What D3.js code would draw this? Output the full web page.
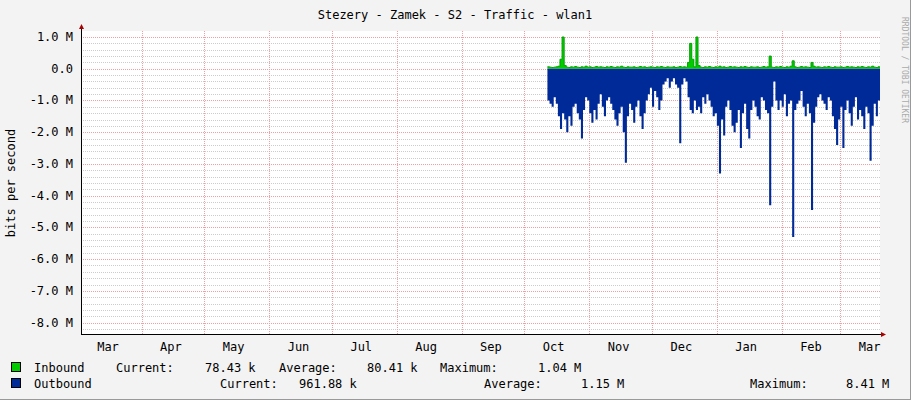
<!doctype html>
<html>
<head>
<meta charset="UTF-8">
<script src="https://d3js.org/d3.v7.min.js"></script>
<style>
body { margin: 0; background: #f3f3f3; }
text { font-family: "DejaVu Sans Mono", monospace; font-size: 12px; fill: #000; }
</style>
</head>
<body>
<div id="chart"></div>
<script>
// daily values in M bits/s, starting 2013-10-12
var startDay = new Date(2013, 9, 12);
var outbound = [
 1.0,1.1,1.2,0.9,1.1,1.5,1.9,1.4,1.6,2.0,
 1.5,1.8,1.2,1.1,1.4,1.6,2.2,1.3,0.9,1.0,
 1.4,1.7,1.3,1.6,1.1,0.8,1.2,1.5,1.0,0.9,
 1.1,1.3,1.6,1.8,1.4,1.2,2.0,2.96,1.5,1.1,
 1.3,1.7,1.2,1.0,1.5,1.9,1.4,1.0,0.8,0.6,
 1.2,0.7,0.9,1.3,1.0,0.5,0.4,0.3,0.6,0.4,
 0.3,0.5,0.6,2.35,0.5,0.3,0.4,0.9,1.3,1.4,
 1.0,1.3,1.2,1.4,0.9,1.1,0.8,1.0,1.2,1.5,
 1.4,1.8,3.3,1.6,2.1,1.2,1.0,1.3,1.8,2.0,
 1.7,1.3,2.5,1.4,1.1,1.9,2.2,1.3,1.0,1.2,
 1.5,1.6,0.9,1.0,1.3,1.4,4.3,1.2,0.4,1.0,
 1.3,1.0,1.2,0.8,1.5,1.1,1.0,5.3,1.3,1.1,
 1.0,0.7,1.2,1.5,1.1,1.4,4.45,1.7,1.2,0.9,
 0.8,1.0,1.1,1.3,0.9,1.0,1.5,1.9,2.4,1.6,
 1.2,2.5,1.3,1.0,1.4,1.8,1.2,0.9,1.6,1.3,
 1.5,1.9,1.2,1.4,2.9,1.8,1.1,1.5,1.0];
var inbound = [
 0.06,0.05,0.04,0.05,0.06,0.08,0.3,1.0,0.1,0.05,
 0.04,0.06,0.05,0.07,0.05,0.04,0.06,0.05,0.08,0.05,
 0.06,0.04,0.05,0.07,0.05,0.06,0.05,0.04,0.06,0.05,
 0.07,0.05,0.04,0.06,0.05,0.08,0.05,0.04,0.06,0.05,
 0.05,0.06,0.04,0.05,0.07,0.05,0.06,0.04,0.05,0.06,
 0.05,0.04,0.06,0.05,0.07,0.05,0.04,0.06,0.05,0.05,
 0.06,0.04,0.05,0.07,0.05,0.06,0.05,0.2,0.8,0.3,
 0.06,1.0,0.1,0.05,0.04,0.06,0.05,0.07,0.05,0.04,
 0.06,0.05,0.08,0.05,0.06,0.04,0.05,0.07,0.05,0.06,
 0.05,0.04,0.06,0.05,0.07,0.05,0.04,0.06,0.05,0.05,
 0.06,0.04,0.05,0.07,0.05,0.06,0.4,0.05,0.04,0.06,
 0.05,0.07,0.05,0.04,0.06,0.05,0.08,0.25,0.06,0.04,
 0.05,0.07,0.05,0.06,0.05,0.04,0.2,0.08,0.05,0.06,
 0.05,0.04,0.06,0.05,0.07,0.05,0.04,0.06,0.05,0.05,
 0.06,0.04,0.05,0.07,0.05,0.06,0.05,0.04,0.06,0.05,
 0.07,0.05,0.04,0.06,0.05,0.08,0.05,0.04,0.06];
var yTicks = [1, 0, -1, -2, -3, -4, -5, -6, -7, -8];
var monthNames = ["Mar","Apr","May","Jun","Jul","Aug","Sep","Oct","Nov","Dec","Jan","Feb","Mar"];
var legendRows = [
 {name: "Inbound", color: "#00cc00", items: [["Current:",116],["78.43 k",205],["Average:",279],["80.41 k",367],["Maximum:",440],["1.04 M",538]]},
 {name: "Outbound", color: "#002a97", items: [["Current:",220],["961.88 k",299],["Average:",484],["1.15 M",581],["Maximum:",750],["8.41 M",846]]}
];

var W = 911, H = 400,
	pL = 81, pR = 880, pT = 31, pB = 334;

var svg = d3.select("#chart").append("svg").attr("width", W).attr("height", H);
svg.append("rect").attr("width", W).attr("height", H).attr("fill", "#f3f3f3");
svg.append("rect").attr("x", pL).attr("y", pT).attr("width", pR - pL).attr("height", pB - pT).attr("fill", "#fff");

var x = d3.scaleTime().domain([new Date(2013, 2, 3), new Date(2014, 2, 20)]).range([pL, pR]);
var y = d3.scaleLinear().domain([-8.36, 1.19]).range([pB, pT]);

// minor horizontal grid
d3.range(-8.2, 1.2, 0.2).forEach(function (v) {
	svg.append("line").attr("x1", pL).attr("x2", pR).attr("y1", Math.round(y(v)) + 0.5).attr("y2", Math.round(y(v)) + 0.5)
		.attr("stroke", "#ccc").attr("stroke-dasharray", "1,1");
});
yTicks.forEach(function (v) {
	svg.append("line").attr("x1", pL).attr("x2", pR).attr("y1", Math.round(y(v)) + 0.5).attr("y2", Math.round(y(v)) + 0.5)
		.attr("stroke", "#f0a0a0").attr("stroke-dasharray", "1,1");
	svg.append("text").attr("x", 73).attr("y", y(v) + 4).attr("text-anchor", "end")
		.text(v === 0 ? "0.0" : v.toFixed(1) + " M");
});
var months = d3.timeMonth.range(new Date(2013, 3, 1), new Date(2014, 2, 2));
months.forEach(function (m) {
	svg.append("line").attr("x1", Math.round(x(m)) + 0.5).attr("x2", Math.round(x(m)) + 0.5).attr("y1", pT).attr("y2", pB)
		.attr("stroke", "#f0a0a0").attr("stroke-dasharray", "1,1");
});
d3.timeMonth.range(new Date(2013, 2, 1), new Date(2014, 2, 2)).forEach(function (m, i) {
	var mid = new Date(m.getFullYear(), m.getMonth(), 15);
	var px = Math.max(Math.min(x(mid), 871), 108);
	svg.append("text").attr("x", px).attr("y", 351).attr("text-anchor", "middle").text(monthNames[i]);
});

var days = outbound.map(function (d, i) { return d3.timeDay.offset(startDay, i); });
var endDay = d3.timeDay.offset(startDay, outbound.length);
var outData = outbound.map(function (v, i) { return {t: days[i], v: -v}; }).concat([{t: endDay, v: -outbound[outbound.length - 1]}]);
var inData = inbound.map(function (v, i) { return {t: days[i], v: v}; }).concat([{t: endDay, v: inbound[inbound.length - 1]}]);

var area = d3.area().curve(d3.curveStepAfter).x(d => x(d.t)).y0(y(0)).y1(d => y(d.v));
var line = d3.line().curve(d3.curveStepAfter).x(d => x(d.t)).y(d => y(d.v));
svg.append("path").datum(inData).attr("d", area).attr("fill", "#00cc00");
svg.append("path").datum(inData).attr("d", line).attr("fill", "none").attr("stroke", "#00a000").attr("stroke-width", 1);
svg.append("path").datum(outData).attr("d", area).attr("fill", "#002a97");

// axes
svg.append("line").attr("x1", pL + 0.5).attr("x2", pL + 0.5).attr("y1", pT - 3).attr("y2", pB).attr("stroke", "#000");
svg.append("line").attr("x1", pL).attr("x2", pR + 3).attr("y1", pB + 0.5).attr("y2", pB + 0.5).attr("stroke", "#000");
svg.append("path").attr("d", `M${pL - 2},${pT - 2}L${pL + 3},${pT - 2}L${pL + 0.5},${pT - 7}Z`).attr("fill", "#a00");
svg.append("path").attr("d", `M${pR + 1},${pB - 2}L${pR + 1},${pB + 3}L${pR + 6},${pB + 0.5}Z`).attr("fill", "#a00");

svg.append("text").attr("x", 455).attr("y", 19).attr("text-anchor", "middle").text("Stezery - Zamek - S2 - Traffic - wlan1");
svg.append("text").attr("transform", "translate(15,183) rotate(-90)").attr("text-anchor", "middle").text("bits per second");
svg.append("text").attr("transform", "translate(902,70) rotate(90)").attr("text-anchor", "middle")
	.style("font-size", "8px").style("fill", "#aaa").text("RRDTOOL / TOBI OETIKER");

legendRows.forEach(function (r, i) {
	var ly = 372 + i * 16;
	svg.append("rect").attr("x", 11.5).attr("y", ly - 9.5).attr("width", 9).attr("height", 9).attr("fill", r.color).attr("stroke", "#000");
	svg.append("text").attr("x", 34).attr("y", ly).text(r.name);
	r.items.forEach(function (it) { svg.append("text").attr("x", it[1]).attr("y", ly).text(it[0]); });
});
svg.append("line").attr("x1", 0).attr("x2", W).attr("y1", H - 0.5).attr("y2", H - 0.5).attr("stroke", "#999");
svg.append("line").attr("x1", W - 0.5).attr("x2", W - 0.5).attr("y1", 0).attr("y2", H).attr("stroke", "#999");
</script>
</body>
</html>
